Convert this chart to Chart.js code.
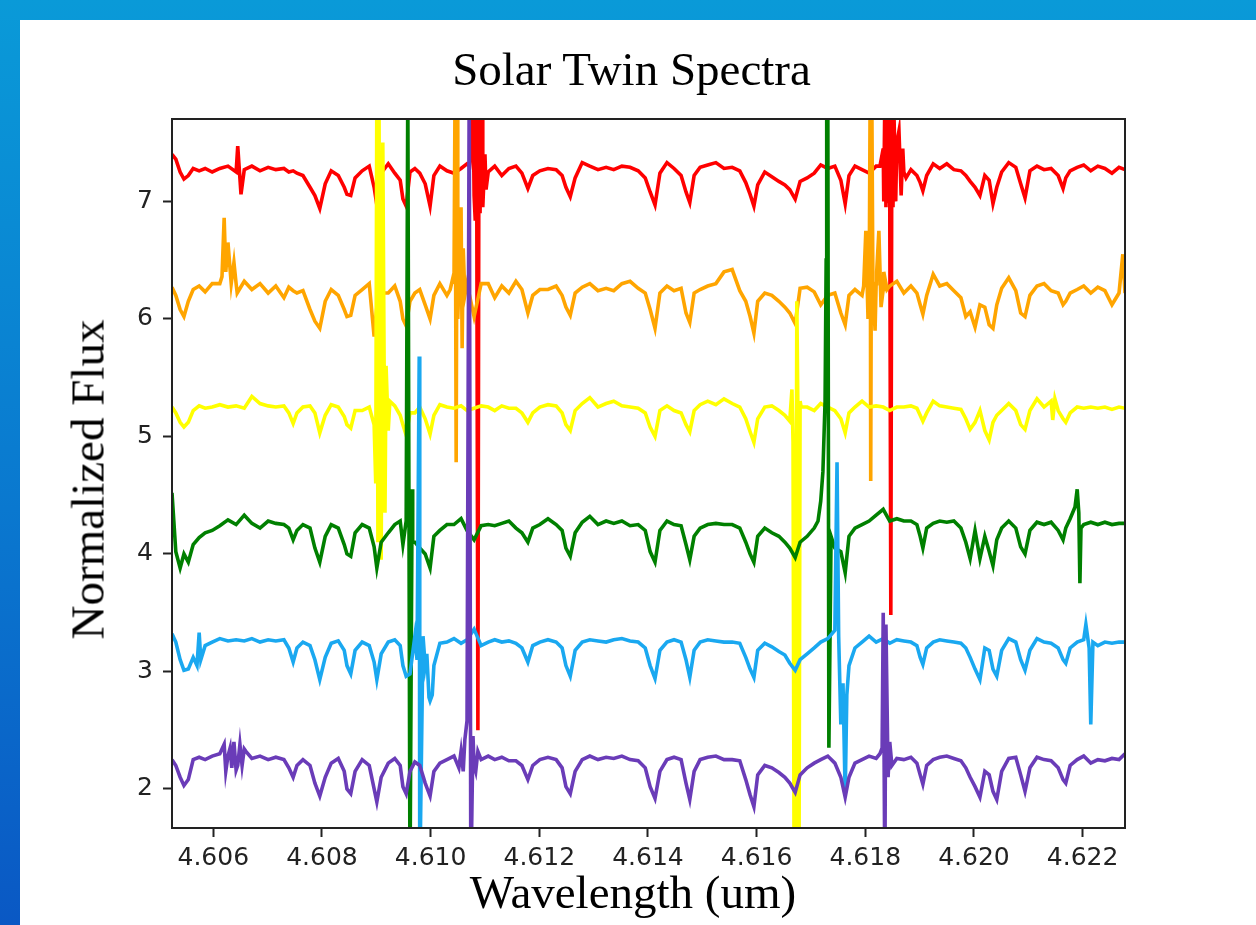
<!DOCTYPE html>
<html>
<head>
<meta charset="utf-8">
<title>Solar Twin Spectra</title>
<script src="https://cdn.jsdelivr.net/npm/chart.js@4.4.1/dist/chart.umd.min.js"></script>
<style>
  body {
    margin: 0;
    width: 1256px;
    height: 925px;
    overflow: hidden;
    position: relative;
    background: linear-gradient(180deg, #0a9ad8 0%, #0a78cf 55%, #0a58c4 100%);
  }
  #panel {
    position: absolute;
    left: 20px;
    top: 20px;
    right: 0;
    bottom: 0;
    background: #fff;
  }
  #spectra-chart {
    position: absolute;
    left: 0;
    top: 0;
  }
  .serif {
    position: absolute;
    font-family: 'Liberation Serif', 'Times New Roman', serif;
    font-size: 47px;
    line-height: 47px;
    color: #000;
    text-align: center;
    white-space: nowrap;
  }
  #title { left: 0; width: 1263px; top: 46px; }
  #x-label { left: 0; width: 1266px; top: 869px; }
  #y-label { left: -112px; top: 456px; width: 400px; height: 47px; transform: rotate(-90deg); }
</style>
</head>
<body>
<div id="panel"></div>
<canvas id="spectra-chart" width="1256" height="925"></canvas>
<div class="serif" id="title">Solar Twin Spectra</div>
<div class="serif" id="x-label">Wavelength (um)</div>
<div class="serif" id="y-label">Normalized Flux</div>

<script>
// Shared wavelength grid (um)
const wavelength = [
    4.60524, 4.60531, 4.60539, 4.60546, 4.60554, 4.60563, 4.60574, 4.60585, 4.60598, 4.60612,
    4.60627, 4.60642, 4.60657, 4.60671, 4.60686, 4.60701, 4.60715, 4.60730, 4.60739, 4.60747,
    4.60754, 4.60765, 4.60778, 4.60787, 4.60796, 4.60806, 4.60817, 4.60830, 4.60841, 4.60846,
    4.60853, 4.60861, 4.60874, 4.60887, 4.60896, 4.60901, 4.60909, 4.60922, 4.60934, 4.60944,
    4.60949, 4.60955, 4.60962, 4.60971, 4.60980, 4.60990, 4.60999, 4.61006, 4.61017, 4.61030,
    4.61043, 4.61056, 4.61067, 4.61080, 4.61093, 4.61106, 4.61118, 4.61131, 4.61144, 4.61157,
    4.61168, 4.61179, 4.61188, 4.61201, 4.61216, 4.61231, 4.61242, 4.61249, 4.61257, 4.61266,
    4.61279, 4.61293, 4.61308, 4.61323, 4.61337, 4.61352, 4.61367, 4.61382, 4.61395, 4.61404,
    4.61413, 4.61422, 4.61435, 4.61448, 4.61461, 4.61470, 4.61477, 4.61485, 4.61496, 4.61510,
    4.61525, 4.61540, 4.61555, 4.61569, 4.61580, 4.61588, 4.61595, 4.61602, 4.61615, 4.61628,
    4.61641, 4.61652, 4.61661, 4.61671, 4.61680, 4.61693, 4.61706, 4.61718, 4.61731, 4.61744,
    4.61755, 4.61763, 4.61770, 4.61781, 4.61794, 4.61807, 4.61820, 4.61833, 4.61845, 4.61858,
    4.61871, 4.61884, 4.61895, 4.61901, 4.61906, 4.61913, 4.61925, 4.61937, 4.61950, 4.61963,
    4.61976, 4.61985, 4.61993, 4.62002, 4.62011, 4.62020, 4.62028, 4.62035, 4.62042, 4.62051,
    4.62064, 4.62077, 4.62086, 4.62094, 4.62103, 4.62116, 4.62129, 4.62142, 4.62155, 4.62164,
    4.62169, 4.62177, 4.62190, 4.62202, 4.62215, 4.62228, 4.62241, 4.62254, 4.62267, 4.62278
];

// Normalized flux on the grid, one array per star (offset upward)
const fluxRed = [
    7.40, 7.36, 7.25, 7.19, 7.22, 7.28, 7.26, 7.28, 7.25, 7.28,
    7.30, 7.25, 7.27, 7.30, 7.26, 7.29, 7.27, 7.28, 7.25, 7.26,
    7.24, 7.22, 7.12, 7.05, 6.94, 7.15, 7.26, 7.22, 7.12, 7.06,
    7.05, 7.20, 7.26, 7.30, 7.12, 6.97, 7.24, 7.32, 7.24, 7.18,
    7.02, 6.96, 7.25, 7.28, 7.24, 7.15, 6.96, 7.22, 7.30, 7.26,
    7.24, 7.28, 7.32, 7.05, 7.75, 7.25, 7.30, 7.22, 7.28, 7.30,
    7.24, 7.11, 7.22, 7.26, 7.28, 7.27, 7.22, 7.12, 7.04, 7.20,
    7.33, 7.30, 7.27, 7.29, 7.27, 7.30, 7.29, 7.26, 7.20, 7.08,
    6.97, 7.24, 7.33, 7.28, 7.22, 7.08, 6.99, 7.22, 7.29, 7.31,
    7.33, 7.28, 7.29, 7.26, 7.16, 7.06, 6.96, 7.14, 7.25, 7.21,
    7.17, 7.14, 7.10, 7.02, 7.17, 7.20, 7.24, 7.31, 7.28, 7.30,
    7.18, 6.98, 7.22, 7.30, 7.27, 7.24, 7.30, 7.45, 7.05, 7.50,
    7.25, 7.27, 7.22, 7.16, 7.09, 7.22, 7.32, 7.28, 7.32, 7.27,
    7.26, 7.22, 7.17, 7.12, 7.05, 7.22, 7.18, 6.98, 7.12, 7.25,
    7.33, 7.29, 7.15, 7.03, 7.26, 7.30, 7.27, 7.28, 7.22, 7.11,
    7.20, 7.26, 7.29, 7.31, 7.26, 7.30, 7.28, 7.24, 7.29, 7.27
];
const fluxOrange = [
    6.27, 6.20, 6.08, 6.02, 6.15, 6.25, 6.28, 6.23, 6.30, 6.30,
    6.65, 6.30, 6.32, 6.25, 6.30, 6.22, 6.28, 6.18, 6.27, 6.24,
    6.22, 6.24, 6.08, 5.98, 5.92, 6.15, 6.25, 6.20, 6.08, 6.02,
    6.03, 6.20, 6.25, 6.30, 5.85, 6.10, 6.22, 6.22, 6.28, 6.15,
    6.00, 5.94, 6.15, 6.22, 6.25, 6.12, 6.00, 6.20, 6.30, 6.20,
    6.30, 6.95, 6.30, 6.02, 6.30, 6.30, 6.18, 6.28, 6.22, 6.32,
    6.25, 6.05, 6.20, 6.25, 6.25, 6.28, 6.20, 6.10, 6.03, 6.22,
    6.27, 6.30, 6.24, 6.26, 6.24, 6.30, 6.32, 6.26, 6.22, 6.08,
    5.92, 6.22, 6.28, 6.24, 6.26, 6.05, 5.97, 6.22, 6.25, 6.28,
    6.30, 6.40, 6.42, 6.24, 6.15, 6.02, 5.88, 6.15, 6.22, 6.20,
    6.15, 6.10, 6.05, 5.96, 6.26, 6.27, 6.23, 6.12, 6.20, 6.22,
    6.05, 5.95, 6.20, 6.25, 6.20, 6.10, 6.30, 6.25, 6.28, 6.32,
    6.22, 6.28, 6.22, 6.12, 6.04, 6.20, 6.38, 6.28, 6.30, 6.24,
    6.18, 6.02, 6.06, 5.93, 6.12, 6.10, 5.95, 5.92, 6.12, 6.26,
    6.35, 6.24, 6.05, 6.02, 6.20, 6.28, 6.30, 6.24, 6.22, 6.12,
    6.15, 6.22, 6.25, 6.28, 6.22, 6.27, 6.24, 6.12, 6.22, 6.22
];
const fluxYellow = [
    5.25, 5.20, 5.12, 5.08, 5.12, 5.22, 5.26, 5.24, 5.25, 5.27,
    5.25, 5.26, 5.24, 5.34, 5.28, 5.26, 5.25, 5.26, 5.20, 5.11,
    5.20, 5.25, 5.26, 5.20, 5.03, 5.18, 5.27, 5.25, 5.17, 5.10,
    5.07, 5.22, 5.22, 5.25, 5.10, 8.00, 3.95, 5.05, 5.26, 5.18,
    5.10, 5.01, 5.20, 5.20, 5.25, 5.15, 5.02, 5.18, 5.27, 5.25,
    5.24, 5.26, 5.22, 5.24, 5.26, 5.25, 5.22, 5.26, 5.24, 5.24,
    5.20, 5.12, 5.20, 5.25, 5.27, 5.26, 5.20, 5.10, 5.05, 5.22,
    5.28, 5.33, 5.25, 5.28, 5.30, 5.26, 5.25, 5.24, 5.20, 5.08,
    5.00, 5.22, 5.26, 5.22, 5.20, 5.10, 5.04, 5.22, 5.27, 5.30,
    5.27, 5.32, 5.28, 5.25, 5.15, 5.04, 4.95, 5.15, 5.25, 5.26,
    5.22, 5.18, 5.13, 1.20, 5.30, 5.25, 5.22, 5.28, 5.25, 5.22,
    5.15, 5.03, 5.20, 5.25, 5.30, 5.25, 5.26, 5.25, 5.22, 5.25,
    5.25, 5.26, 5.24, 5.18, 5.13, 5.20, 5.30, 5.26, 5.25, 5.24,
    5.23, 5.15, 5.06, 5.12, 5.22, 5.05, 4.97, 5.12, 5.18, 5.22,
    5.28, 5.22, 5.10, 5.06, 5.22, 5.32, 5.25, 5.30, 5.22, 5.15,
    5.12, 5.20, 5.25, 5.24, 5.25, 5.24, 5.25, 5.23, 5.25, 5.24
];
const fluxGreen = [
    4.52, 4.02, 3.88, 4.00, 3.93, 4.08, 4.14, 4.18, 4.20, 4.24,
    4.29, 4.25, 4.33, 4.26, 4.22, 4.28, 4.26, 4.25, 4.22, 4.12,
    4.20, 4.25, 4.22, 4.05, 3.93, 4.15, 4.25, 4.22, 4.08, 4.00,
    3.98, 4.18, 4.25, 4.22, 4.06, 3.88, 4.10, 4.18, 4.25, 4.28,
    4.08, 4.28, 1.20, 4.10, 4.05, 4.00, 3.88, 4.15, 4.20, 4.25,
    4.25, 4.30, 4.20, 4.12, 4.24, 4.25, 4.24, 4.26, 4.28, 4.22,
    4.18, 4.10, 4.22, 4.25, 4.30, 4.25, 4.20, 4.05, 3.98, 4.18,
    4.27, 4.32, 4.25, 4.28, 4.26, 4.28, 4.24, 4.25, 4.20, 4.02,
    3.93, 4.20, 4.28, 4.25, 4.24, 4.08, 3.95, 4.15, 4.22, 4.25,
    4.26, 4.25, 4.25, 4.22, 4.10, 4.00, 3.93, 4.15, 4.22, 4.18,
    4.15, 4.10, 4.05, 3.97, 4.10, 4.15, 4.22, 4.45, 8.00, 4.05,
    4.02, 3.84, 4.15, 4.22, 4.25, 4.28, 4.33, 4.38, 4.28, 4.30,
    4.28, 4.28, 4.25, 4.15, 4.05, 4.22, 4.26, 4.28, 4.27, 4.28,
    4.22, 4.10, 3.96, 4.20, 3.96, 4.15, 4.02, 3.90, 4.12, 4.22,
    4.28, 4.22, 4.06, 4.00, 4.20, 4.27, 4.25, 4.27, 4.20, 4.12,
    4.22, 4.30, 4.55, 4.25, 4.27, 4.25, 4.27, 4.25, 4.26, 4.26
];
const fluxBlue = [
    3.32, 3.25, 3.10, 3.01, 3.02, 3.12, 3.33, 3.22, 3.25, 3.28,
    3.26, 3.27, 3.26, 3.28, 3.25, 3.27, 3.26, 3.27, 3.20, 3.08,
    3.20, 3.25, 3.22, 3.10, 2.93, 3.12, 3.24, 3.26, 3.18, 3.05,
    2.98, 3.18, 3.25, 3.22, 3.08, 2.93, 3.15, 3.25, 3.27, 3.22,
    3.05, 2.96, 2.98, 3.30, 1.20, 3.05, 2.75, 3.05, 3.24, 3.25,
    3.28, 3.24, 3.27, 3.36, 3.22, 3.25, 3.27, 3.25, 3.26, 3.24,
    3.20, 3.08, 3.22, 3.25, 3.27, 3.25, 3.20, 3.05, 2.96, 3.18,
    3.25, 3.27, 3.26, 3.25, 3.27, 3.28, 3.26, 3.25, 3.20, 3.05,
    2.94, 3.18, 3.25, 3.27, 3.25, 3.10, 2.95, 3.18, 3.25, 3.27,
    3.26, 3.25, 3.25, 3.24, 3.12, 3.02, 2.95, 3.18, 3.24, 3.21,
    3.17, 3.14, 3.07, 3.01, 3.10, 3.15, 3.20, 3.25, 3.28, 3.35,
    2.55, 1.94, 3.05, 3.20, 3.25, 3.30, 3.25, 3.28, 3.24, 3.27,
    3.26, 3.25, 3.22, 3.12, 3.06, 3.20, 3.25, 3.27, 3.26, 3.25,
    3.24, 3.20, 3.12, 3.02, 2.93, 3.20, 3.18, 3.02, 2.96, 3.18,
    3.28, 3.25, 3.10, 3.01, 3.18, 3.28, 3.25, 3.24, 3.20, 3.10,
    3.07, 3.20, 3.25, 3.27, 2.55, 3.22, 3.25, 3.24, 3.25, 3.25
];
const fluxPurple = [
    2.25, 2.20, 2.10, 2.03, 2.08, 2.25, 2.27, 2.25, 2.28, 2.30,
    2.28, 2.16, 2.34, 2.26, 2.28, 2.25, 2.27, 2.25, 2.18, 2.10,
    2.20, 2.25, 2.20, 2.05, 1.94, 2.10, 2.22, 2.26, 2.15, 2.00,
    1.96, 2.15, 2.25, 2.20, 2.00, 1.89, 2.10, 2.22, 2.26, 2.20,
    2.02, 1.96, 2.15, 2.23, 2.20, 2.05, 1.94, 2.15, 2.22, 2.25,
    2.28, 2.32, 2.58, 2.20, 2.25, 2.28, 2.25, 2.27, 2.24, 2.24,
    2.20, 2.08, 2.20, 2.25, 2.27, 2.25, 2.18, 2.02, 1.96, 2.15,
    2.25, 2.28, 2.25, 2.27, 2.26, 2.28, 2.25, 2.24, 2.18, 2.02,
    1.92, 2.15, 2.25, 2.27, 2.25, 2.05, 1.91, 2.15, 2.25, 2.27,
    2.28, 2.25, 2.25, 2.24, 2.08, 1.95, 1.85, 2.12, 2.20, 2.18,
    2.14, 2.10, 2.05, 1.97, 2.12, 2.18, 2.22, 2.25, 2.28, 2.22,
    2.10, 1.93, 2.10, 2.22, 2.25, 2.28, 2.26, 3.50, 2.40, 2.26,
    2.25, 2.27, 2.22, 2.12, 2.04, 2.20, 2.25, 2.27, 2.28, 2.26,
    2.24, 2.18, 2.10, 2.02, 1.93, 2.15, 2.12, 1.98, 1.91, 2.15,
    2.26, 2.27, 2.12, 1.98, 2.18, 2.27, 2.25, 2.24, 2.18, 2.08,
    2.05, 2.20, 2.25, 2.28, 2.22, 2.25, 2.24, 2.26, 2.25, 2.30
];

// Narrow spikes / artifacts that fall between grid points
const redSpikeWl = [
    4.60645, 4.60651,
    4.61072, 4.61076, 4.61078, 4.61082, 4.61083, 4.61085, 4.61087, 4.61089, 4.61091, 4.61095, 4.61096, 4.61100, 4.61102,
    4.61827, 4.61834, 4.61836, 4.61838, 4.61840, 4.61842, 4.61843, 4.61847, 4.61849, 4.61851, 4.61853, 4.61856, 4.61862, 4.61866, 4.61869, 4.61875
];
const redSpikeFlux = [
    7.47, 7.06,
    7.30, 7.50, 7.90, 6.85, 8.00, 6.90, 2.50, 7.95, 6.90, 7.85, 6.95, 7.40, 7.10,
    7.30, 7.00, 7.90, 6.95, 8.00, 7.00, 7.95, 3.48, 7.95, 6.95, 7.70, 7.00, 7.60, 7.05, 7.45, 7.20
];
const orangeSpikeWl = [
    4.60616, 4.60620, 4.60623, 4.60633, 4.60638, 4.60644,
    4.61036, 4.61041, 4.61045, 4.61047, 4.61049, 4.61050, 4.61052, 4.61058, 4.61060, 4.61063,
    4.61797, 4.61801, 4.61805, 4.61809, 4.61810, 4.61812, 4.61814, 4.61818, 4.61821, 4.61825, 4.61829, 4.61834, 4.61840,
    4.62274
];
const orangeSpikeFlux = [
    6.36, 6.86, 6.40, 6.30, 6.48, 6.22,
    6.25, 6.35, 8.00, 4.78, 7.90, 6.00, 6.30, 5.75, 6.60, 6.20,
    6.28, 6.75, 6.00, 8.00, 4.62, 7.90, 6.30, 5.90, 6.40, 6.75, 6.10, 6.40, 6.25,
    6.55
];
const yellowSpikeWl = [
    4.60899, 4.60903, 4.60905, 4.60907, 4.60912, 4.60916, 4.60918, 4.60925,
    4.61665, 4.61667, 4.61669, 4.61674, 4.61676, 4.61678, 4.61682,
    4.62145, 4.62149
];
const yellowSpikeFlux = [
    4.60, 4.10, 7.90, 4.50, 7.50, 4.35, 5.60, 5.30,
    5.40, 4.95, 1.20, 6.15, 5.20, 1.20, 5.25,
    5.14, 5.32
];
const greenSpikeWl = [
    4.60958, 4.60966, 4.60967,
    4.61713, 4.61722, 4.61726, 4.61728, 4.61729, 4.61733, 4.61737,
    4.62186, 4.62193, 4.62195, 4.62197
];
const greenSpikeFlux = [
    8.00, 4.55, 4.10,
    4.28, 4.70, 5.30, 6.50, 8.00, 2.35, 4.15,
    4.40, 4.35, 3.75, 4.22
];
const blueSpikeWl = [
    4.60570, 4.60577,
    4.60975, 4.60979, 4.60986, 4.60993, 4.60997, 4.61003,
    4.61748, 4.61751, 4.61759, 4.61766,
    4.62206, 4.62212, 4.62219
];
const blueSpikeFlux = [
    3.05, 3.10,
    3.10, 5.68, 3.30, 3.15, 2.78, 2.80,
    4.78, 3.30, 2.90, 2.80,
    3.40, 3.20, 3.25
];
const purpleSpikeWl = [
    4.60620, 4.60623, 4.60631, 4.60634, 4.60638, 4.60645, 4.60649, 4.60653, 4.60660,
    4.61052, 4.61060, 4.61063, 4.61071, 4.61074, 4.61078, 4.61083, 4.61087,
    4.61827, 4.61831, 4.61836, 4.61838, 4.61842, 4.61849
];
const purpleSpikeFlux = [
    2.38, 2.15, 2.35, 2.18, 2.40, 2.20, 2.38, 2.20, 2.32,
    2.18, 2.15, 2.42, 8.00, 1.20, 2.45, 2.15, 2.32,
    2.30, 2.35, 1.20, 3.40, 2.10, 2.20
];

const xTicks = [4.606, 4.608, 4.610, 4.612, 4.614, 4.616, 4.618, 4.620, 4.622];
const yTicks = [2, 3, 4, 5, 6, 7];


function buildPoints(flux, spikeWl, spikeFlux) {
    const pts = wavelength.map((w, i) => ({ x: w, y: flux[i] }));
    spikeWl.forEach((w, i) => pts.push({ x: w, y: spikeFlux[i] }));
    return pts.sort((a, b) => a.x - b.x);
}

function spectrum(label, color, order, flux, spikeWl, spikeFlux) {
    return {
        label: label,
        data: buildPoints(flux, spikeWl, spikeFlux),
        borderColor: color,
        borderWidth: 3.6,
        pointRadius: 0,
        tension: 0,
        clip: 0,
        order: order
    };
}

// matplotlib-style box around the axes, drawn over the lines
const axesFrame = {
    id: 'axesFrame',
    afterDatasetsDraw(chart) {
        const { ctx, chartArea } = chart;
        ctx.save();
        ctx.strokeStyle = '#222';
        ctx.lineWidth = 2;
        ctx.strokeRect(chartArea.left, chartArea.top, chartArea.right - chartArea.left, chartArea.bottom - chartArea.top);
        ctx.restore();
    }
};

const tickFont = { family: 'DejaVu Sans', size: 25 };

new Chart(document.getElementById('spectra-chart'), {
    type: 'line',
    data: {
        datasets: [
            spectrum('Star 1', '#ff0000', 6, fluxRed, redSpikeWl, redSpikeFlux),
            spectrum('Star 2', '#ffa500', 5, fluxOrange, orangeSpikeWl, orangeSpikeFlux),
            spectrum('Star 3', '#ffff00', 4, fluxYellow, yellowSpikeWl, yellowSpikeFlux),
            spectrum('Star 4', '#008000', 3, fluxGreen, greenSpikeWl, greenSpikeFlux),
            spectrum('Star 5', '#1aa8f0', 2, fluxBlue, blueSpikeWl, blueSpikeFlux),
            spectrum('Star 6', '#6a3cb8', 1, fluxPurple, purpleSpikeWl, purpleSpikeFlux)
        ]
    },
    options: {
        responsive: false,
        devicePixelRatio: 1,
        animation: false,
        events: [],
        layout: { padding: { left: 20, right: 131, top: 119, bottom: 0 } },
        plugins: {
            legend: { display: false },
            tooltip: { enabled: false }
        },
        scales: {
            x: {
                type: 'linear',
                min: 4.60524,
                max: 4.62278,
                afterBuildTicks: s => { s.ticks = xTicks.map(v => ({ value: v })); },
                afterFit: s => { s.height = 97; },
                border: { display: false },
                grid: { drawOnChartArea: false, tickLength: 9, tickWidth: 2, tickColor: '#222' },
                ticks: {
                    callback: v => v.toFixed(3),
                    font: tickFont,
                    color: '#222',
                    padding: 6,
                    maxRotation: 0,
                    autoSkip: false
                }
            },
            y: {
                min: 1.668,
                max: 7.701,
                afterBuildTicks: s => { s.ticks = yTicks.map(v => ({ value: v })); },
                afterFit: s => { s.width = 152; },
                border: { display: false },
                grid: { drawOnChartArea: false, tickLength: 9, tickWidth: 2, tickColor: '#222' },
                ticks: {
                    callback: v => String(v),
                    font: tickFont,
                    color: '#222',
                    padding: 10
                }
            }
        }
    },
    plugins: [axesFrame]
});
</script>
</body>
</html>
